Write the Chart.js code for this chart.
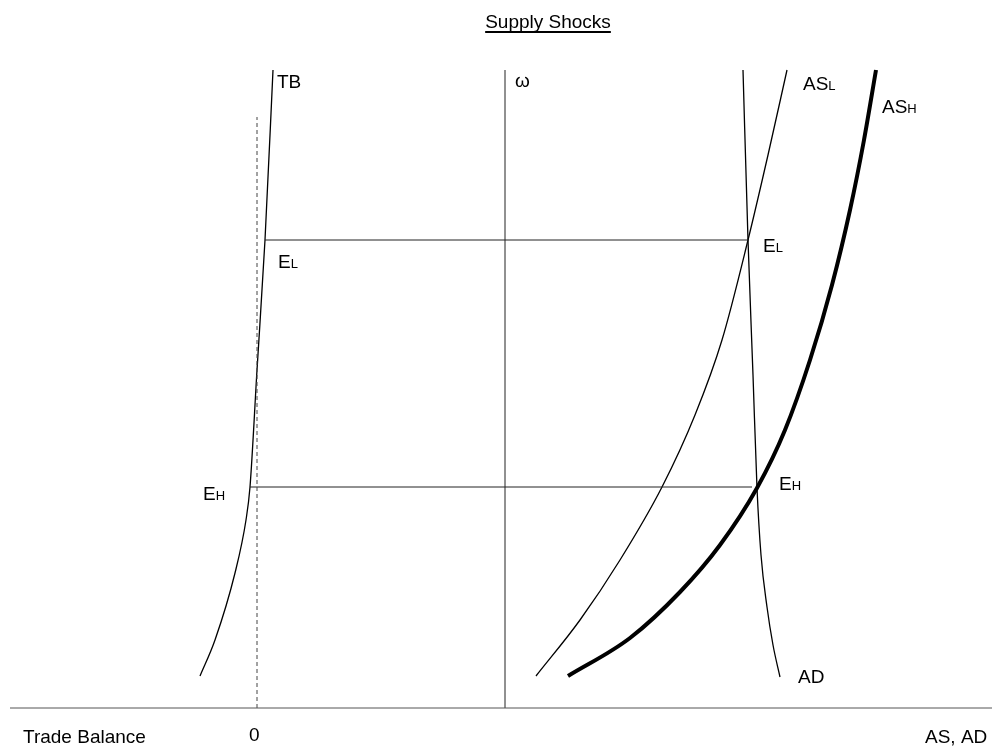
<!DOCTYPE html>
<html lang="en">
<head>
    <meta charset="UTF-8">
    <title>Supply Shocks</title>
    <script src="https://cdn.jsdelivr.net/npm/chart.js"></script>
    <style>
        body {
            margin: 0;
            background: #ffffff;
        }
        #wrap {
            width: 998px;
            height: 755px;
        }
    </style>
</head>
<body>
    <div id="wrap"><canvas id="diagram" width="998" height="755"></canvas></div>

    <script>
        // Curves, in diagram units (x to the right, y up from the bottom edge)
        const tbX = [200, 215, 235, 246, 250, 257, 265, 273];
        const tbY = [79, 115, 182, 235, 268, 385, 515, 685];

        const adX = [743, 748, 753, 757, 761, 767, 773, 780];
        const adY = [685, 515, 380, 267, 200, 148, 110, 78];

        const aslX = [536, 580, 620, 662, 695, 722, 748, 768, 787];
        const aslY = [79, 135, 195, 268, 340, 415, 515, 600, 685];

        const ashX = [568, 630, 680, 720, 757, 785, 810, 832, 850, 864, 876];
        const ashY = [79, 117, 163, 210, 267, 325, 395, 470, 545, 615, 685];

        // Equilibrium levels and reference lines
        const levelEL = 515;
        const levelEH = 268;
        const elSpan = [265, 748];
        const ehSpan = [250, 752];
        const axisY = 47;
        const axisSpan = [10, 992];
        const omegaX = 505;
        const omegaTop = 685;
        const zeroX = 257;
        const zeroTop = 638;

        function pts(xs, ys) {
            return xs.map((x, i) => ({ x: x, y: ys[i] }));
        }

        function straight(data, color, width, dash) {
            return {
                data: data,
                showLine: true,
                borderColor: color,
                borderWidth: width,
                borderDash: dash || [],
                pointRadius: 0,
                tension: 0,
                fill: false
            };
        }

        function curve(xs, ys, width) {
            return {
                data: pts(xs, ys),
                showLine: true,
                borderColor: '#000000',
                borderWidth: width,
                pointRadius: 0,
                cubicInterpolationMode: 'monotone',
                fill: false
            };
        }

        // Text labels: [main, subscript, x, baseline y]
        const labels = [
            ['TB', '', 277, 667],
            ['\u03c9', '', 515, 668],
            ['AS', 'L', 803, 665],
            ['AS', 'H', 882, 642],
            ['E', 'L', 763, 503],
            ['E', 'L', 278, 487],
            ['E', 'H', 203, 255],
            ['E', 'H', 779, 265],
            ['AD', '', 798, 72],
            ['Trade Balance', '', 23, 12],
            ['0', '', 249, 14],
            ['AS, AD', '', 925, 12]
        ];

        const textPlugin = {
            id: 'diagramText',
            afterDraw(chart) {
                const ctx = chart.ctx;
                const sx = chart.scales.x;
                const sy = chart.scales.y;
                ctx.save();
                ctx.fillStyle = '#000000';
                ctx.textBaseline = 'alphabetic';
                ctx.textAlign = 'left';

                labels.forEach(l => {
                    const px = sx.getPixelForValue(l[2]);
                    const py = sy.getPixelForValue(l[3]);
                    ctx.font = '19px "Liberation Sans", Arial, sans-serif';
                    ctx.fillText(l[0], px, py);
                    if (l[1]) {
                        const w = ctx.measureText(l[0]).width;
                        ctx.font = '13px "Liberation Sans", Arial, sans-serif';
                        ctx.fillText(l[1], px + w, py);
                    }
                });

                // underlined title
                const title = 'Supply Shocks';
                ctx.font = '19px "Liberation Sans", Arial, sans-serif';
                const tw = ctx.measureText(title).width;
                const tx = 548 - tw / 2;
                ctx.fillText(title, tx, 28);
                ctx.fillRect(tx, 31, tw, 2);
                ctx.restore();
            }
        };

        new Chart(document.getElementById('diagram'), {
            type: 'scatter',
            data: {
                datasets: [
                    straight([{ x: axisSpan[0], y: axisY }, { x: axisSpan[1], y: axisY }], '#555555', 1),
                    straight([{ x: zeroX, y: axisY }, { x: zeroX, y: zeroTop }], '#444444', 1, [4, 3]),
                    straight([{ x: omegaX, y: axisY }, { x: omegaX, y: omegaTop }], '#222222', 1),
                    straight([{ x: elSpan[0], y: levelEL }, { x: elSpan[1], y: levelEL }], '#222222', 1),
                    straight([{ x: ehSpan[0], y: levelEH }, { x: ehSpan[1], y: levelEH }], '#222222', 1),
                    curve(tbX, tbY, 1.3),
                    curve(adX, adY, 1.3),
                    curve(aslX, aslY, 1.3),
                    curve(ashX, ashY, 4)
                ]
            },
            options: {
                responsive: false,
                animation: false,
                layout: { padding: 0 },
                plugins: {
                    legend: { display: false },
                    tooltip: { enabled: false },
                    title: { display: false }
                },
                scales: {
                    x: { type: 'linear', min: 0, max: 998, display: false },
                    y: { type: 'linear', min: 0, max: 755, display: false }
                }
            },
            plugins: [textPlugin]
        });
    </script>
</body>
</html>
